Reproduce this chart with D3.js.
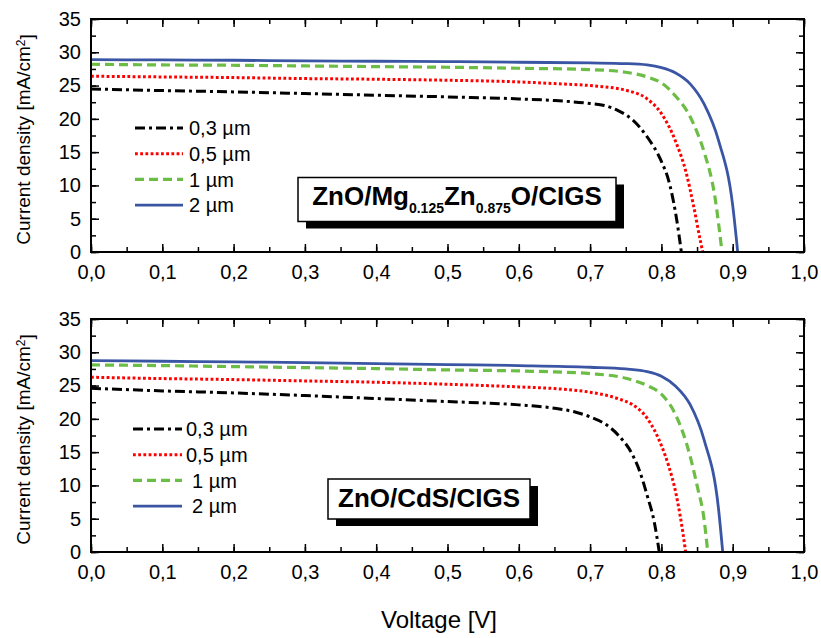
<!DOCTYPE html>
<html>
<head>
<meta charset="utf-8">
<script src="https://cdn.jsdelivr.net/npm/d3@7"></script>
<style>
  html, body { margin: 0; padding: 0; background: #fff; }
  svg { display: block; font-family: "Liberation Sans", Arial, Helvetica, sans-serif; }
</style>
</head>
<body>
<svg id="chart" width="821" height="638"></svg>
<script>
// ---------------- DATA ----------------
const seriesNames = ["0,3 µm", "0,5 µm", "1 µm", "2 µm"];
const xTickValues = [0, 0.1, 0.2, 0.3, 0.4, 0.5, 0.6, 0.7, 0.8, 0.9, 1.0];
const yTickValues = [0, 5, 10, 15, 20, 25, 30, 35];
const panelTitles = ["ZnO/Mg0.125Zn0.875O/CIGS", "ZnO/CdS/CIGS"];

// Top panel: ZnO/Mg0.125Zn0.875O/CIGS  ([voltage V, current density mA/cm²])
const mgzno_03 = [[0,24.5],[0.1,24.25],[0.2,24.05],[0.3,23.8],[0.4,23.55],[0.5,23.3],[0.6,23.0],[0.65,22.75],[0.7,22.3],[0.72,22.0],[0.74,21.2],[0.76,19.8],[0.78,17.3],[0.80,13.6],[0.81,10.8],[0.82,5.8],[0.828,0]];
const mgzno_05 = [[0,26.4],[0.1,26.3],[0.2,26.2],[0.3,26.05],[0.4,25.95],[0.5,25.8],[0.6,25.55],[0.65,25.3],[0.7,25.0],[0.75,24.3],[0.78,23.0],[0.80,20.8],[0.82,16.6],[0.835,11.8],[0.845,7.0],[0.855,1.5],[0.858,0]];
const mgzno_1  = [[0,28.2],[0.1,28.1],[0.2,28.05],[0.3,27.95],[0.4,27.85],[0.5,27.75],[0.6,27.6],[0.7,27.4],[0.75,27.0],[0.78,26.3],[0.80,25.4],[0.82,23.4],[0.84,20.4],[0.85,18.0],[0.86,15.0],[0.875,8.3],[0.885,0]];
const mgzno_2  = [[0,28.9],[0.1,28.85],[0.2,28.8],[0.3,28.7],[0.4,28.65],[0.5,28.6],[0.6,28.5],[0.7,28.4],[0.75,28.3],[0.78,28.1],[0.80,27.7],[0.82,26.9],[0.84,25.3],[0.86,22.2],[0.88,16.8],[0.90,7.0],[0.907,0]];

// Bottom panel: ZnO/CdS/CIGS
const cds_03 = [[0,24.6],[0.1,24.2],[0.2,23.9],[0.3,23.5],[0.4,23.05],[0.5,22.6],[0.6,22.1],[0.65,21.6],[0.68,21.0],[0.70,20.3],[0.72,19.3],[0.74,17.5],[0.76,14.5],[0.77,12.0],[0.78,8.5],[0.79,4.5],[0.797,0]];
const cds_05 = [[0,26.25],[0.1,26.05],[0.2,25.9],[0.3,25.7],[0.4,25.5],[0.5,25.2],[0.6,24.8],[0.65,24.55],[0.7,24.0],[0.74,23.0],[0.76,22.1],[0.78,20.1],[0.80,16.0],[0.81,13.0],[0.82,9.0],[0.83,3.0],[0.834,0]];
const cds_1  = [[0,28.1],[0.1,28.0],[0.2,27.85],[0.3,27.7],[0.4,27.55],[0.5,27.35],[0.6,27.2],[0.65,27.05],[0.7,26.8],[0.75,26.1],[0.78,25.0],[0.80,23.7],[0.82,20.6],[0.84,14.5],[0.85,10.0],[0.86,4.8],[0.865,0]];
const cds_2  = [[0,28.75],[0.1,28.65],[0.2,28.55],[0.3,28.45],[0.4,28.3],[0.5,28.15],[0.6,28.0],[0.7,27.75],[0.75,27.5],[0.78,27.1],[0.80,26.4],[0.82,24.9],[0.84,22.2],[0.86,16.8],[0.88,6.6],[0.886,0]];

// ---------------- STYLES ----------------
const styles = [
  { color: "#000000", width: 3, dash: "10,4,3,4", cap: "butt" },
  { color: "#ff0000", width: 3, dash: "2.8,2.4", cap: "butt" },
  { color: "#6cbd45", width: 3.2, dash: "9,5", cap: "butt" },
  { color: "#3a55a4", width: 2.8, dash: null, cap: "butt" }
];

const svg = d3.select("#chart");
const fmt = d => d3.format(".1f")(d).replace(".", ",");

const panels = [
  { top: 19, bottom: 252, series: [mgzno_03, mgzno_05, mgzno_1, mgzno_2], title: panelTitles[0],
    legendY0: 128, legendTextX: [189, 189, 189, 189], legendLine: [135, 183],
    box: { x: 298, y: 177.5, w: 318, h: 44 } },
  { top: 319, bottom: 552, series: [cds_03, cds_05, cds_1, cds_2], title: panelTitles[1],
    legendY0: 429, legendTextX: [186, 186, 192, 192], legendLine: [133, 182],
    box: { x: 328, y: 479, w: 202, h: 40 } }
];

const left = 91, right = 804;
const x = d3.scaleLinear().domain([0, 1]).range([left, right]);
const xMinor = d3.range(0, 1.0001, 0.05).map(v => +v.toFixed(2));
const yMinor = d3.range(0, 35.001, 2.5);

panels.forEach((p, pi) => {
  const y = d3.scaleLinear().domain([0, 35]).range([p.bottom, p.top]);
  const g = svg.append("g");

  // curves
  const line = d3.line().x(d => x(d[0])).y(d => y(d[1])).curve(d3.curveMonotoneX);
  p.series.forEach((s, i) => {
    const st = styles[i];
    g.append("path").datum(s)
      .attr("d", line)
      .attr("fill", "none")
      .attr("stroke", st.color)
      .attr("stroke-width", st.width)
      .attr("stroke-linecap", st.cap)
      .attr("stroke-linejoin", "round")
      .attr("stroke-dasharray", st.dash);
  });

  // axes ticks (inward)
  const mk = (axis, tr) => {
    const a = g.append("g").attr("transform", tr).call(axis);
    a.select(".domain").remove();
    a.selectAll(".tick line").attr("stroke", "#000").attr("stroke-width", 1.5);
    return a;
  };
  const bx = mk(d3.axisBottom(x).tickValues(xTickValues).tickSize(-8).tickPadding(13).tickFormat(fmt),
    `translate(0,${p.bottom})`);
  bx.selectAll("text").attr("font-size", 20).attr("fill", "#000").attr("font-family", "Liberation Sans, Arial, sans-serif");
  mk(d3.axisBottom(x).tickValues(xMinor).tickSize(-5).tickFormat(""), `translate(0,${p.bottom})`);
  mk(d3.axisTop(x).tickValues(xTickValues).tickSize(-8).tickFormat(""), `translate(0,${p.top})`);
  mk(d3.axisTop(x).tickValues(xMinor).tickSize(-5).tickFormat(""), `translate(0,${p.top})`);
  const ly = mk(d3.axisLeft(y).tickValues(yTickValues).tickSize(-8).tickPadding(10).tickFormat(d3.format("d")),
    `translate(${left},0)`);
  ly.selectAll("text").attr("font-size", 20).attr("fill", "#000").attr("font-family", "Liberation Sans, Arial, sans-serif");
  mk(d3.axisLeft(y).tickValues(yMinor).tickSize(-5).tickFormat(""), `translate(${left},0)`);
  mk(d3.axisRight(y).tickValues(yTickValues).tickSize(-8).tickFormat(""), `translate(${right},0)`);
  mk(d3.axisRight(y).tickValues(yMinor).tickSize(-5).tickFormat(""), `translate(${right},0)`);

  // frame
  g.append("rect")
    .attr("x", left).attr("y", p.top)
    .attr("width", right - left).attr("height", p.bottom - p.top)
    .attr("fill", "none").attr("stroke", "#000").attr("stroke-width", 2);

  // y axis title
  const yt = g.append("text")
    .attr("transform", `translate(30,${(p.top + p.bottom) / 2 + 4}) rotate(-90)`)
    .attr("text-anchor", "middle")
    .attr("font-size", 19)
    .attr("fill", "#000");
  yt.append("tspan").text("Current density [mA/cm");
  yt.append("tspan").attr("dy", "-0.45em").attr("font-size", 12).text("2");
  yt.append("tspan").attr("dy", "0.45em").text("]");

  // legend
  seriesNames.forEach((name, i) => {
    const st = styles[i];
    const ry = p.legendY0 + i * 25.7;
    g.append("line")
      .attr("x1", p.legendLine[0]).attr("x2", p.legendLine[1])
      .attr("y1", ry).attr("y2", ry)
      .attr("stroke", st.color).attr("stroke-width", st.width)
      .attr("stroke-dasharray", st.dash);
    g.append("text")
      .attr("x", p.legendTextX[i]).attr("y", ry).attr("dy", "0.36em")
      .attr("font-size", 20).attr("fill", "#000")
      .text(name);
  });

  // label box with shadow
  const b = p.box;
  g.append("rect").attr("x", b.x + 8).attr("y", b.y + 7).attr("width", b.w).attr("height", b.h).attr("fill", "#000");
  g.append("rect").attr("x", b.x).attr("y", b.y).attr("width", b.w).attr("height", b.h)
    .attr("fill", "#fff").attr("stroke", "#000").attr("stroke-width", 1.5);
  const bt = g.append("text")
    .attr("x", b.x + b.w / 2).attr("y", b.y + b.h - 15 + (pi === 0 ? -1.5 : 2.5))
    .attr("text-anchor", "middle")
    .attr("font-weight", "bold").attr("font-size", 26).attr("fill", "#000");
  if (pi === 0) {
    bt.append("tspan").text("ZnO/Mg");
    bt.append("tspan").attr("dy", 8).attr("font-size", 14).text("0.125");
    bt.append("tspan").attr("dy", -8).text("Zn");
    bt.append("tspan").attr("dy", 8).attr("font-size", 14).text("0.875");
    bt.append("tspan").attr("dy", -8).text("O/CIGS");
  } else {
    bt.text(p.title);
  }
});

// x axis title
svg.append("text")
  .attr("x", 439).attr("y", 628)
  .attr("text-anchor", "middle")
  .attr("font-size", 24).attr("fill", "#000")
  .text("Voltage [V]");
</script>
</body>
</html>
